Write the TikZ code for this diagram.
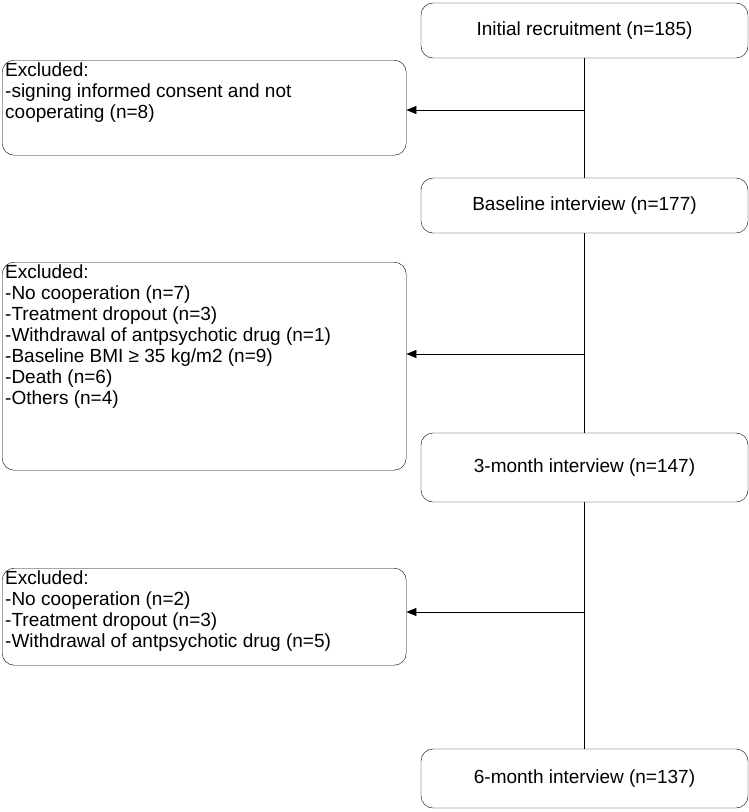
\documentclass[tikz,border=0pt]{standalone}
\usepackage{fontspec}
\setmainfont{Liberation Sans}
\usetikzlibrary{arrows.meta}

\newcommand{\exbox}[2]{\parbox[t][#1][t]{398pt}{#2}}

\begin{document}
\begin{tikzpicture}[x=1pt,y=-1pt,
  stage/.style={draw,rounded corners=12pt,minimum width=327pt,minimum height=55pt,font=\fontsize{19}{21}\selectfont},
  excl/.style={draw,rounded corners=12pt,align=left,inner sep=3pt,font=\fontsize{19}{21}\selectfont,anchor=north west},
  flow/.style={-{Triangle[length=10pt,width=8pt]},line width=0.8pt}]
   \useasboundingbox (0,0) rectangle (749,812);

   % main column
   \node[stage] (init) at (584.5,30.5){Initial recruitment (n=185)};
   \node[stage] (base) at (584.5,205.5){Baseline interview (n=177)};
   \node[stage,minimum height=69pt] (m3) at (584.5,467.5){3-month interview (n=147)};
   \node[stage,minimum height=59pt] (m6) at (584.5,778.5){6-month interview (n=137)};
   \draw[line width=0.8pt] (init)--(base) (base)--(m3) (m3)--(m6);

   % exclusions
   \node[excl] (ex1) at (2,60){\exbox{89pt}{Excluded:\\ -signing informed consent and not\\ cooperating (n=8)}};
   \node[excl] (ex2) at (2,262){\exbox{202pt}{Excluded:\\ -No cooperation (n=7)\\ -Treatment dropout (n=3)\\ -Withdrawal of antpsychotic drug (n=1)\\ -Baseline BMI ≥ 35 kg/m2 (n=9)\\ -Death (n=6)\\ -Others (n=4)}};
   \node[excl] (ex3) at (2,568){\exbox{91pt}{Excluded:\\ -No cooperation (n=2)\\ -Treatment dropout (n=3)\\ -Withdrawal of antpsychotic drug (n=5)}};

   \coordinate (c1) at (584.5,110);
   \coordinate (c2) at (584.5,354);
   \coordinate (c3) at (584.5,612);
   \draw[flow] (c1)--(ex1.east|-c1);
   \draw[flow] (c2)--(ex2.east|-c2);
   \draw[flow] (c3)--(ex3.east|-c3);
\end{tikzpicture}
\end{document}
